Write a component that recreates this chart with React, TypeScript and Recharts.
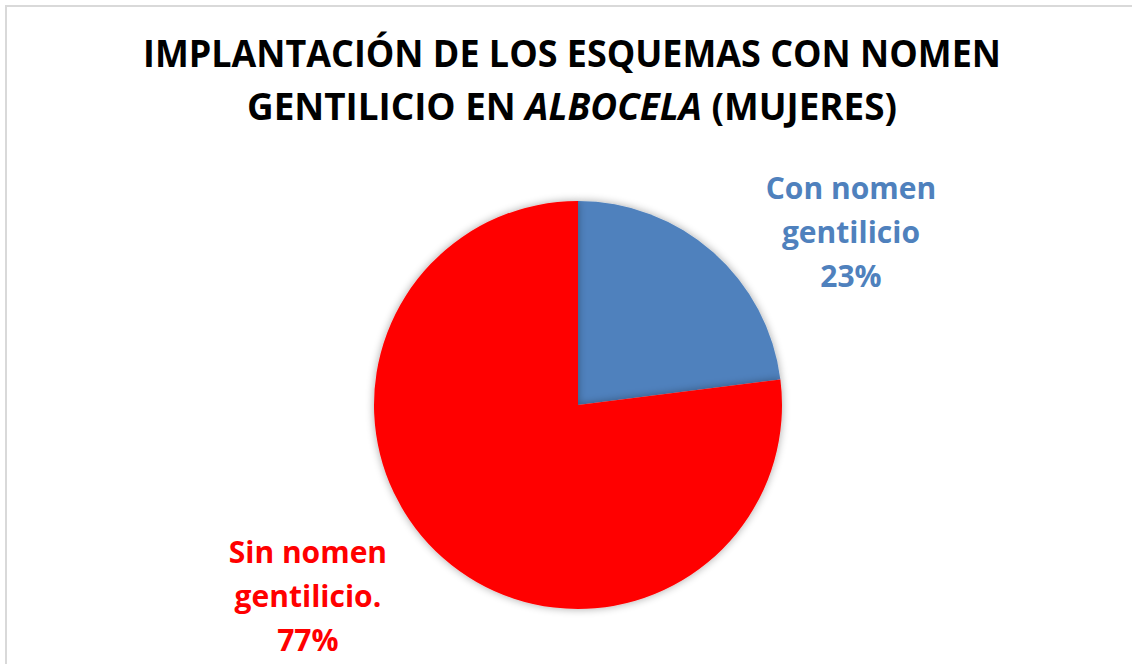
import React from "react";
import { PieChart, Pie, Cell } from "recharts";

const categories = ["Con nomen gentilicio", "Sin nomen gentilicio."];
const values = [23, 77];
const labelLines = [
  ["Con nomen", "gentilicio"],
  ["Sin nomen", "gentilicio."],
];
const colors = ["#4f81bd", "#ff0000"];
const titleLine1 = "IMPLANTACIÓN DE LOS ESQUEMAS CON NOMEN";
const titleLine2a = "GENTILICIO EN ";
const titleLine2b = "ALBOCELA";
const titleLine2c = " (MUJERES)";

const data = categories.map((name, i) => ({ name, value: values[i] }));

const FONT = "'Open Sans', sans-serif";
// label anchor offsets, as multiples of outer radius
const labelOffsets = [
  { dx: 1.338, dy: -0.795 },
  { dx: -1.324, dy: 0.99 },
];

const renderLabel = (props: any) => {
  const { cx, cy, outerRadius, percent, index } = props;
  const off = labelOffsets[index];
  const x = cx + off.dx * outerRadius;
  const y = cy + off.dy * outerRadius;
  const lines = [...labelLines[index], `${Math.round(percent * 100)}%`];
  const gap = 44;
  return (
    <text
      key={`lbl-${index}`}
      x={x}
      y={y}
      textAnchor="middle"
      fill={colors[index]}
      fontFamily={FONT}
      fontWeight={700}
      fontSize={30}
    >
      {lines.map((l, i) => (
        <tspan key={i} x={x} y={y + (i - 1) * gap}>
          {l}
        </tspan>
      ))}
    </text>
  );
};

export default function App() {
  return (
    <div
      style={{
        position: "fixed",
        left: 0,
        top: 0,
        width: 1132,
        height: 664,
        overflow: "hidden",
        background: "#ffffff",
      }}
    >
      <div
        style={{
          position: "absolute",
          left: 5,
          top: 5,
          width: 1150,
          height: 720,
          border: "2px solid #d9d9d9",
          boxSizing: "border-box",
        }}
      />
      <svg
        width={1132}
        height={664}
        style={{ position: "absolute", left: 0, top: 0 }}
      >
        <text
          x={572}
          y={67}
          textAnchor="middle"
          fontFamily={FONT}
          fontWeight={700}
          fontSize={37}
          fill="#000000"
          textLength={858}
          lengthAdjust="spacingAndGlyphs"
        >
          {titleLine1}
        </text>
        <text
          x={572}
          y={120}
          textAnchor="middle"
          fontFamily={FONT}
          fontWeight={700}
          fontSize={37}
          fill="#000000"
          textLength={650}
          lengthAdjust="spacingAndGlyphs"
        >
          <tspan>{titleLine2a}</tspan>
          <tspan fontStyle="italic">{titleLine2b}</tspan>
          <tspan>{titleLine2c}</tspan>
        </text>
      </svg>
      <div style={{ position: "absolute", left: 0, top: 0 }}>
        <PieChart width={1132} height={664}>
          <defs>
            <filter id="pieShadow" x="-20%" y="-20%" width="140%" height="140%">
              <feGaussianBlur in="SourceAlpha" stdDeviation="4" />
              <feOffset dx="0" dy="0" result="blur" />
              <feComponentTransfer>
                <feFuncA type="linear" slope="0.35" />
              </feComponentTransfer>
              <feMerge>
                <feMergeNode />
                <feMergeNode in="SourceGraphic" />
              </feMerge>
            </filter>
          </defs>
          <Pie
            data={data}
            dataKey="value"
            nameKey="name"
            cx={573}
            cy={400}
            outerRadius={204}
            startAngle={90}
            endAngle={-270}
            stroke="none"
            label={renderLabel}
            labelLine={false}
            isAnimationActive={false}
            style={{ filter: "url(#pieShadow)" }}
          >
            {data.map((d, i) => (
              <Cell key={d.name} fill={colors[i]} />
            ))}
          </Pie>
        </PieChart>
      </div>
    </div>
  );
}
